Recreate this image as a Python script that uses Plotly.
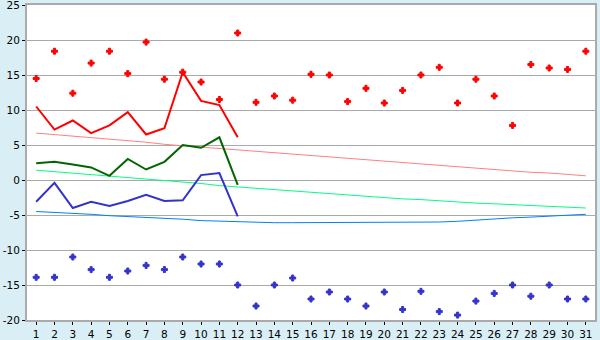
import plotly.graph_objects as go

days = list(range(1, 32))
tmax_pts = [14.5, 18.4, 12.4, 16.7, 18.4, 15.2, 19.7, 14.4, 15.4, 14.0, 11.5, 21.0, 11.1, 12.0, 11.4, 15.1,
            15.0, 11.2, 13.1, 11.0, 12.8, 15.0, 16.1, 11.0, 14.4, 12.0, 7.8, 16.5, 16.0, 15.8, 18.4]
tmin_pts = [-13.9, -13.9, -11.0, -12.8, -13.9, -13.0, -12.2, -12.8, -11.0, -12.0, -12.0, -15.0, -18.0, -15.0,
            -14.0, -17.0, -16.0, -17.0, -18.0, -16.0, -18.5, -15.9, -18.8, -19.3, -17.3, -16.2, -15.0, -16.6,
            -15.0, -17.0, -17.0]
obs_days = list(range(1, 13))
tmax_line = [10.5, 7.2, 8.5, 6.7, 7.8, 9.7, 6.5, 7.4, 15.4, 11.3, 10.7, 6.1]
tmean_line = [2.4, 2.6, 2.2, 1.8, 0.6, 3.0, 1.5, 2.6, 5.0, 4.6, 6.1, -0.7]
tmin_line = [-3.1, -0.4, -4.0, -3.1, -3.7, -3.0, -2.1, -3.0, -2.9, 0.7, 1.0, -5.2]
norm_max = [6.7, 6.5, 6.3, 6.0, 5.8, 5.6, 5.4, 5.1, 4.9, 4.7, 4.5, 4.3, 4.1, 3.9, 3.7, 3.5, 3.3, 3.1, 2.8,
            2.6, 2.4, 2.2, 2.0, 1.8, 1.7, 1.5, 1.3, 1.1, 1.0, 0.8, 0.6]
norm_mean = [1.4, 1.2, 1.0, 0.8, 0.6, 0.4, 0.2, 0.0, -0.2, -0.5, -0.8, -1.0, -1.2, -1.4, -1.6, -1.8, -2.0,
             -2.2, -2.4, -2.5, -2.7, -2.8, -3.0, -3.1, -3.3, -3.4, -3.5, -3.6, -3.8, -3.9, -4.0]
norm_min = [-4.5, -4.6, -4.8, -4.9, -5.1, -5.2, -5.4, -5.5, -5.6, -5.8, -5.9, -6.0, -6.0, -6.1, -6.1, -6.1,
            -6.1, -6.1, -6.1, -6.1, -6.0, -6.0, -6.0, -5.9, -5.7, -5.6, -5.4, -5.3, -5.2, -5.0, -4.9]
y_ticks = [-20, -15, -10, -5, 0, 5, 10, 15, 20, 25]

fig = go.Figure()
fig.add_trace(go.Scatter(x=days, y=norm_max, mode="lines", line=dict(color="#FF8080", width=1)))
fig.add_trace(go.Scatter(x=days, y=norm_mean, mode="lines", line=dict(color="#00FF80", width=1)))
fig.add_trace(go.Scatter(x=days, y=norm_min, mode="lines", line=dict(color="#0080FF", width=1)))
fig.add_trace(go.Scatter(x=obs_days, y=tmax_line, mode="lines", line=dict(color="#FF0000", width=2)))
fig.add_trace(go.Scatter(x=obs_days, y=tmean_line, mode="lines", line=dict(color="#006600", width=2)))
fig.add_trace(go.Scatter(x=obs_days, y=tmin_line, mode="lines", line=dict(color="#3333CC", width=2)))
fig.add_trace(go.Scatter(x=days, y=tmax_pts, mode="markers",
                         marker=dict(symbol="cross", size=5, color="#FF0000",
                                     line=dict(width=1, color="#FF0000"))))
fig.add_trace(go.Scatter(x=days, y=tmin_pts, mode="markers",
                         marker=dict(symbol="cross", size=5, color="#3333CC",
                                     line=dict(width=1, color="#3333CC"))))

fig.update_layout(
    width=600, height=340,
    margin=dict(l=27, r=5, t=5, b=20),
    paper_bgcolor="#DAEFF5", plot_bgcolor="#FFFFFF",
    showlegend=False,
    font=dict(family="DejaVu Sans", size=10.5, color="#000000"),
)
fig.update_xaxes(range=[0.5, 31.5], tickmode="array", tickvals=days, ticktext=[str(d) for d in days],
                 showgrid=False, ticks="outside", ticklen=3, tickcolor="#000000", tickwidth=1,
                 showline=True, linecolor="#AAAAAA", linewidth=2, mirror=True, zeroline=False,
                 automargin=False, ticklabeloverflow="allow", tickfont=dict(size=10.5))
fig.update_yaxes(range=[-20, 25], tickmode="array", tickvals=y_ticks, ticktext=[str(v) for v in y_ticks],
                 showgrid=True, gridcolor="#AAAAAA", gridwidth=1, ticks="outside", ticklen=3,
                 tickcolor="#000000", tickwidth=1, showline=True, linecolor="#AAAAAA", linewidth=2,
                 mirror=True, zeroline=False, automargin=False, ticklabeloverflow="allow",
                 tickfont=dict(size=10.5))
fig.write_html("out.html")
